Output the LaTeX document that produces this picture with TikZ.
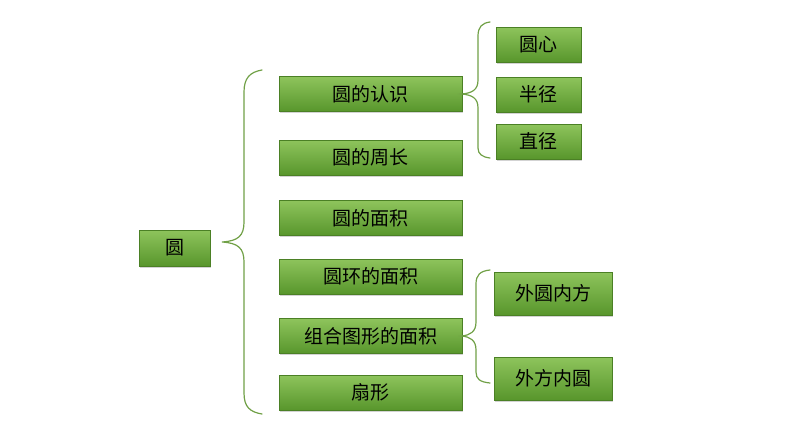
\documentclass[tikz,border=0pt]{standalone}
\usepackage{fontspec}
\setmainfont{Noto Sans CJK SC}
\usetikzlibrary{shadows}
\definecolor{gtop}{RGB}{142,196,92}
\definecolor{gbot}{RGB}{88,150,44}
\definecolor{brc}{RGB}{112,160,70}
\tikzset{
  gbox/.style={rectangle, top color=gtop, bottom color=gbot, draw=gbot!85!black, line width=0.4pt,
    drop shadow={shadow xshift=1pt, shadow yshift=-1.5pt, opacity=0.35},
    font=\fontsize{19}{22}\selectfont, inner sep=0pt},
  brace/.style={draw=brc, line width=1.2pt, line cap=round}
}
\begin{document}
\begin{tikzpicture}[x=1pt,y=-1pt]
\useasboundingbox (0,0) rectangle (794,447);
\node[gbox, minimum width=71, minimum height=36] (r) at (174.5,248) {圆};
\foreach \n/\y/\t in {a/94/圆的认识, b/157.5/圆的周长, c/218/圆的面积, d/276.5/圆环的面积, e/336/组合图形的面积, f/392.5/扇形}
  \node[gbox, minimum width=183, minimum height=35] (\n) at (370.5,\y) {\t};
\foreach \n/\y/\t in {a1/44.5/圆心, a2/94.5/半径, a3/141.5/直径}
  \node[gbox, minimum width=85, minimum height=35] (\n) at (538.5,\y) {\t};
\node[gbox, minimum width=118, minimum height=43] (e1) at (553,293.5) {外圆内方};
\node[gbox, minimum width=118, minimum height=43] (e2) at (553,378.5) {外方内圆};
% big brace
\coordinate (bt) at (222,242);
\draw[brace] (262,70) .. controls (250,72) and (244,78) .. (244,92) -- (244,222)
  .. controls (244,236) and (238,241) .. (bt)
  .. controls (238,243) and (244,248) .. (244,262) -- (244,393)
  .. controls (244,407) and (250,412) .. (262,414);
% top right brace
\coordinate (ta) at (462,94);
\draw[brace] (490,22) .. controls (482,23) and (478,27) .. (478,36) -- (478,80)
  .. controls (478,90) and (472,93) .. (ta)
  .. controls (472,95) and (478,98) .. (478,108) -- (478,148)
  .. controls (478,154) and (482,157) .. (490,158);
% bottom right brace
\coordinate (tb) at (462,336);
\draw[brace] (490,270) .. controls (480,271) and (476,275) .. (476,284) -- (476,322)
  .. controls (476,332) and (470,335) .. (tb)
  .. controls (470,337) and (476,340) .. (476,350) -- (476,372)
  .. controls (476,379) and (480,382) .. (490,383);
\end{tikzpicture}
\end{document}
